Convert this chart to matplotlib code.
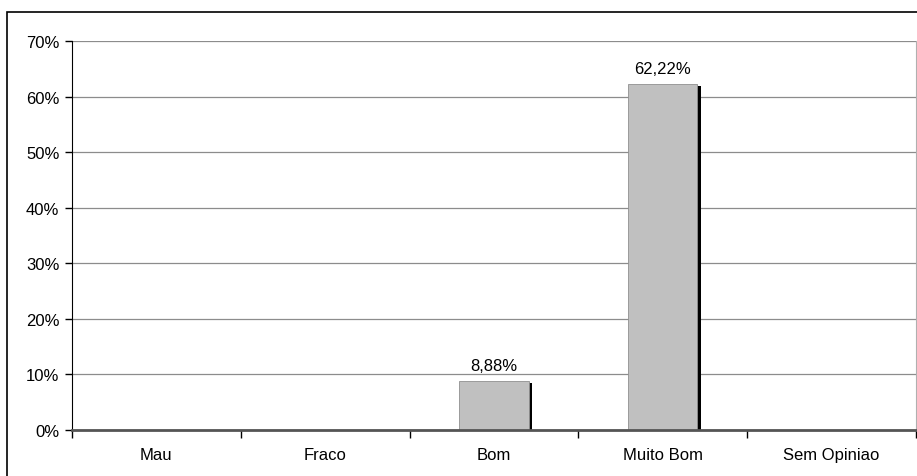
import numpy as np
import matplotlib.pyplot as plt
from matplotlib.patches import Rectangle

plt.rcParams['font.family'] = ['Liberation Sans', 'DejaVu Sans']

categories = ["Mau", "Fraco", "Bom", "Muito Bom", "Sem Opiniao"]
values = [0.0, 0.0, 8.88, 62.22, 0.0]
labels = ["", "", "8,88%", "62,22%", ""]
yticks = [0, 10, 20, 30, 40, 50, 60, 70]

W, H = 917, 477
fig = plt.figure(figsize=(W / 100, H / 100), dpi=100)
ax = fig.add_axes([72 / W, 46 / H, 844 / W, 389 / H])

# outer frame of the chart object
fig.patches.append(Rectangle((7 / W, -0.1), 1.2, 1 - 13 / H + 0.1,
                             transform=fig.transFigure, fill=False,
                             edgecolor='black', linewidth=1.2))

fs = 12
x = np.arange(len(categories))
bw = 0.41
dx = 3 / 169  # shadow offset in category units
for xi, v, lab in zip(x, values, labels):
    if v <= 0:
        continue
    # black drop shadow
    ax.bar(xi + bw / 2 + dx / 2, v - 0.35, width=dx * 1.3, color='black', zorder=2)
    ax.bar(xi, v, width=bw, color='#c0c0c0', edgecolor='#909090', linewidth=0.6, zorder=3)
    ax.text(xi, v + 1.4, lab, ha='center', va='bottom', fontsize=fs)

ax.set_xlim(-0.5, len(categories) - 0.5)
ax.set_ylim(0, 70)
ax.set_yticks(yticks)
ax.set_yticklabels([f"{t}%" for t in yticks], fontsize=fs)
ax.yaxis.grid(True, color='#8c8c8c', linewidth=0.9)
ax.set_axisbelow(True)

ax.set_xticks(x)
ax.set_xticklabels(categories, fontsize=fs)
ax.tick_params(axis='x', length=0, pad=12)
ax.set_xticks(np.arange(len(categories) + 1) - 0.5, minor=True)
ax.tick_params(axis='x', which='minor', length=6, width=1, color='black', direction='out')
ax.tick_params(axis='y', length=5, width=1, direction='out', pad=4)

ax.spines['top'].set_visible(False)
ax.spines['right'].set_color('#b0b0b0')
ax.spines['left'].set_color('black')
ax.spines['bottom'].set_color('#555555')
ax.spines['bottom'].set_linewidth(2)
ax.spines['bottom'].set_zorder(4)

fig.savefig('out.png', dpi=100)
